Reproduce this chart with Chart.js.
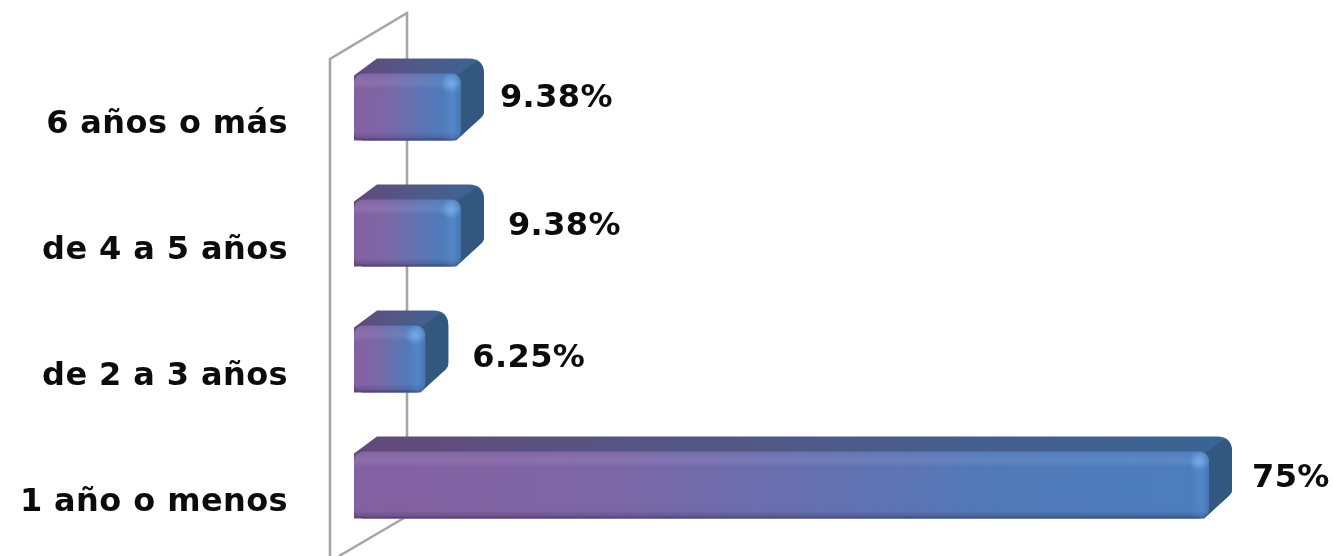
<!DOCTYPE html>
<html><head><meta charset="utf-8">
<style>html,body{margin:0;padding:0;background:#fff}#w{width:1333px;height:556px;overflow:hidden}canvas{filter:blur(0.6px)}</style>
<script src="https://cdn.jsdelivr.net/npm/chart.js@4/dist/chart.umd.min.js"></script>
</head><body><div id="w"><canvas id="c" width="1333" height="556"></canvas></div>
<script>
const categories = ["1 año o menos", "de 2 a 3 años", "de 4 a 5 años", "6 años o más"];
const values = [75, 6.25, 9.38, 9.38];
const valueLabels = ["75%", "6.25%", "9.38%", "9.38%"];
const labelNudgeX = [43, 47, 47, 39];
const labelNudgeY = [-6, 0, -6, -8];
const FONT = '"DejaVu Sans"';
const DX = 23, DY = 15;

function frontGradient(g, x0, x1) {
  const gr = g.createLinearGradient(x0, 0, x1, 0);
  gr.addColorStop(0, '#8360a1'); gr.addColorStop(0.3, '#7c66a6');
  gr.addColorStop(0.75, '#5179b8'); gr.addColorStop(1, '#4b7ebd');
  return gr;
}
const cube = {
  id: 'cube',
  beforeDraw(chart) { chart.ctx.letterSpacing = '0.4px'; },
  beforeDatasetsDraw(chart) {
    const g = chart.ctx, x = chart.scales.x, wx0 = x.getPixelForValue(0);
    const a = chart.chartArea;
    g.save(); g.strokeStyle = '#a6a6a6'; g.lineWidth = 2.6;
    const wl = wx0 - 24, wb = wx0 + 53;
    g.beginPath();
    g.moveTo(wl, 556); g.lineTo(wl, a.top + 15); g.lineTo(wb, a.top - 31); g.lineTo(wb, a.bottom - 30);
    g.moveTo(wb - 3, a.bottom - 30); g.lineTo(wl + 9, 556);
    g.stroke(); g.restore();
    const meta = chart.getDatasetMeta(0);
    meta.data.forEach(el => {
      const x0 = el.base, x1 = el.x, yt = el.y - el.height / 2, yb = el.y + el.height / 2;
      g.save();
      g.beginPath();
      g.moveTo(x0, yt + 2); g.lineTo(x0 + DX, yt - DY);
      g.lineTo(x1 + DX - 15, yt - DY);
      g.quadraticCurveTo(x1 + DX, yt - DY, x1 + DX, yt - DY + 15);
      g.lineTo(x1 + DX, yb - 29);
      g.quadraticCurveTo(x1 + DX, yb - 25, x1 + DX - 5, yb - 21);
      g.lineTo(x1 - 5, yb); g.lineTo(x0, yb); g.closePath();
      const tg = g.createLinearGradient(x0, 0, x1 + DX, 0);
      tg.addColorStop(0, '#624a7a'); tg.addColorStop(0.5, '#4f5a88'); tg.addColorStop(1, '#386596');
      g.fillStyle = tg; g.fill();
      g.beginPath();
      g.moveTo(x1 - 6, yt + 3); g.lineTo(x1 + DX - 8, yt - DY + 3);
      g.quadraticCurveTo(x1 + DX, yt - DY + 5, x1 + DX, yt - DY + 15);
      g.lineTo(x1 + DX, yb - 29); g.quadraticCurveTo(x1 + DX, yb - 25, x1 + DX - 5, yb - 21);
      g.lineTo(x1 - 5, yb); g.closePath();
      g.fillStyle = '#33587f'; g.fill();
      g.restore();
    });
  },
  afterDatasetsDraw(chart) {
    const g = chart.ctx, meta = chart.getDatasetMeta(0);
    meta.data.forEach((el, i) => {
      const x0 = el.base, x1 = el.x, yt = el.y - el.height / 2, yb = el.y + el.height / 2, r = 9;
      g.save();
      g.beginPath(); g.roundRect(x0, yt, x1 - x0, yb - yt, r); g.clip();
      let s = g.createLinearGradient(0, yt, 0, yt + 16);
      s.addColorStop(0, 'rgba(255,255,255,0.02)'); s.addColorStop(0.6, 'rgba(255,255,255,0.09)'); s.addColorStop(1, 'rgba(255,255,255,0)');
      g.fillStyle = s; g.fillRect(x0, yt, x1 - x0, 16);
      s = g.createLinearGradient(0, yb - 8, 0, yb);
      s.addColorStop(0, 'rgba(40,30,70,0)'); s.addColorStop(0.65, 'rgba(40,30,70,0.2)'); s.addColorStop(1, 'rgba(40,30,70,0.6)');
      g.fillStyle = s; g.fillRect(x0, yb - 8, x1 - x0, 8);
      s = g.createLinearGradient(x1 - 18, 0, x1, 0);
      s.addColorStop(0, 'rgba(110,170,240,0)'); s.addColorStop(0.6, 'rgba(110,170,240,0.2)'); s.addColorStop(1, 'rgba(40,80,130,0.15)');
      g.fillStyle = s; g.fillRect(x1 - 18, yt, 18, yb - yt);
      s = g.createRadialGradient(x1 - 10, yt + 10, 0, x1 - 10, yt + 10, 10);
      s.addColorStop(0, 'rgba(120,180,245,0.8)'); s.addColorStop(1, 'rgba(120,180,245,0)');
      g.fillStyle = s; g.fillRect(x1 - 20, yt, 20, 20);
      g.restore();
      g.save();
      g.fillStyle = '#0c0c0c'; g.font = 'bold 32px ' + FONT;
      g.textAlign = 'left'; g.textBaseline = 'middle';
      g.fillText(valueLabels[i], x1 + labelNudgeX[i], el.y + labelNudgeY[i]);
      g.restore();
    });
  }
};

new Chart(document.getElementById('c'), {
  type: 'bar',
  plugins: [cube],
  data: {
    labels: categories,
    datasets: [{
      data: values,
      barPercentage: 67 / 126,
      categoryPercentage: 1,
      borderRadius: 9,
      borderSkipped: false,
      backgroundColor(ctx) {
        const ch = ctx.chart;
        if (!ch.chartArea || ctx.raw === undefined) return '#7d66a6';
        const xs = ch.scales.x;
        return frontGradient(ch.ctx, xs.getPixelForValue(0), xs.getPixelForValue(ctx.raw));
      }
    }]
  },
  options: {
    indexAxis: 'y',
    responsive: false,
    animation: false,
    layout: { padding: { top: 44, bottom: 8, left: 0, right: 67 } },
    plugins: { legend: { display: false }, tooltip: { enabled: false }, title: { display: false } },
    scales: {
      x: { min: 0, max: 80, display: false, grid: { display: false } },
      y: {
        reverse: true,
        afterFit(s) { s.width = 354; s.paddingTop = 0; s.paddingBottom = 0; },
        grid: { display: false, drawTicks: true, tickLength: 66 },
        border: { display: false },
        ticks: { padding: 0, labelOffset: 18, color: '#0c0c0c', font: { family: FONT, weight: 'bold', size: 32 } }
      }
    }
  }
});
</script></body></html>
